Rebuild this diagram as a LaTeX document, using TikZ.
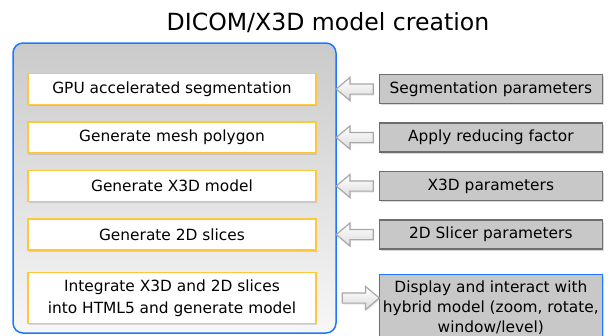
\documentclass[tikz,border=0pt]{standalone}
\usepackage{fontspec}
\setmainfont{DejaVu Sans}
\usepackage{tikz}
\usetikzlibrary{positioning, shapes.arrows, shadows}
\usepackage{xcolor}
\definecolor{frameBlue}{HTML}{1E78FF}
\definecolor{frameTop}{HTML}{CACACA}
\definecolor{frameBottom}{HTML}{F7F7F7}
\definecolor{stepGold}{HTML}{FFC83C}
\definecolor{paramGray}{HTML}{C8C8C8}
\definecolor{paramEdge}{HTML}{6E6E6E}
\definecolor{arrowEdge}{HTML}{A8A8A8}
\definecolor{arrowFill}{HTML}{DCDCDC}
\tikzset{
  font=\fontsize{15.4}{21.5}\selectfont,
  node distance=16pt and 62pt,
  frame/.style={draw=frameBlue, line width=1.5pt, rounded corners=10pt, top color=frameTop, bottom color=frameBottom, minimum width=323pt, minimum height=290pt},
  stepbox/.style={draw=stepGold, line width=1.5pt, fill=white, minimum width=288pt, minimum height=31pt, align=center, inner sep=1pt, drop shadow={shadow xshift=1pt, shadow yshift=-1.5pt, opacity=0.25}},
  parambox/.style={draw=paramEdge, line width=1.2pt, fill=paramGray, minimum width=223pt, minimum height=29pt, align=center, inner sep=1pt, drop shadow={shadow xshift=1.5pt, shadow yshift=-1.5pt, opacity=0.3}},
  resultbox/.style={parambox, draw=frameBlue},
  hollowarrow/.style={single arrow, draw=arrowEdge, line width=1.2pt, top color=white, bottom color=arrowFill, minimum height=37pt, minimum width=22pt, inner xsep=0pt, inner ysep=4.5pt, single arrow head extend=6.5pt, single arrow tip angle=80, drop shadow={shadow xshift=1pt, shadow yshift=-1.5pt, opacity=0.2}},
  arrowleft/.style={hollowarrow, shape border rotate=180},
  arrowright/.style={hollowarrow}
}

\begin{document}
\begin{tikzpicture}[x=1pt, y=-1pt]
    \useasboundingbox (0,0) rectangle (609,335);
    \node[font=\fontsize{23.6}{28}\selectfont] (title) at (328,23) {DICOM/X3D model creation};
    \node[frame] (frame) at (174.5,188) {};

    \node[stepbox] (segment) at (172,89) {GPU accelerated segmentation};
    \node[stepbox, below=of segment] (mesh) {Generate mesh polygon};
    \node[stepbox, below=of mesh] (xmodel) {Generate X3D model};
    \node[stepbox, below=of xmodel] (slices) {Generate 2D slices};
    \node[stepbox, below=21pt of slices, minimum height=51pt] (integrate) {Integrate X3D and 2D slices\\into HTML5 and generate model};

    \node[parambox, right=of segment] (segparam) {Segmentation parameters};
    \node[parambox, right=of mesh] (reduce) {Apply reducing factor};
    \node[parambox, right=of xmodel] (xparam) {X3D parameters};
    \node[parambox, right=of slices] (sliceparam) {2D Slicer parameters};
    \node[resultbox, below=24pt of sliceparam, minimum height=66pt, anchor=north, font=\fontsize{15.4}{20}\selectfont] (display) {Display and interact with\\hybrid model (zoom, rotate,\\window/level)};

    \path (segparam.west) -- (segparam.west -| frame.east) node[midway, arrowleft] (segarrow) {};
    \path (reduce.west) -- (reduce.west -| frame.east) node[midway, arrowleft] (reducearrow) {};
    \path (xparam.west) -- (xparam.west -| frame.east) node[midway, arrowleft] (xarrow) {};
    \path (sliceparam.west) -- (sliceparam.west -| frame.east) node[midway, arrowleft] (slicearrow) {};
    \path (integrate -| frame.east) -- (integrate -| display.west) node[midway, arrowright] (displayarrow) {};
  \end{tikzpicture}
\end{document}
